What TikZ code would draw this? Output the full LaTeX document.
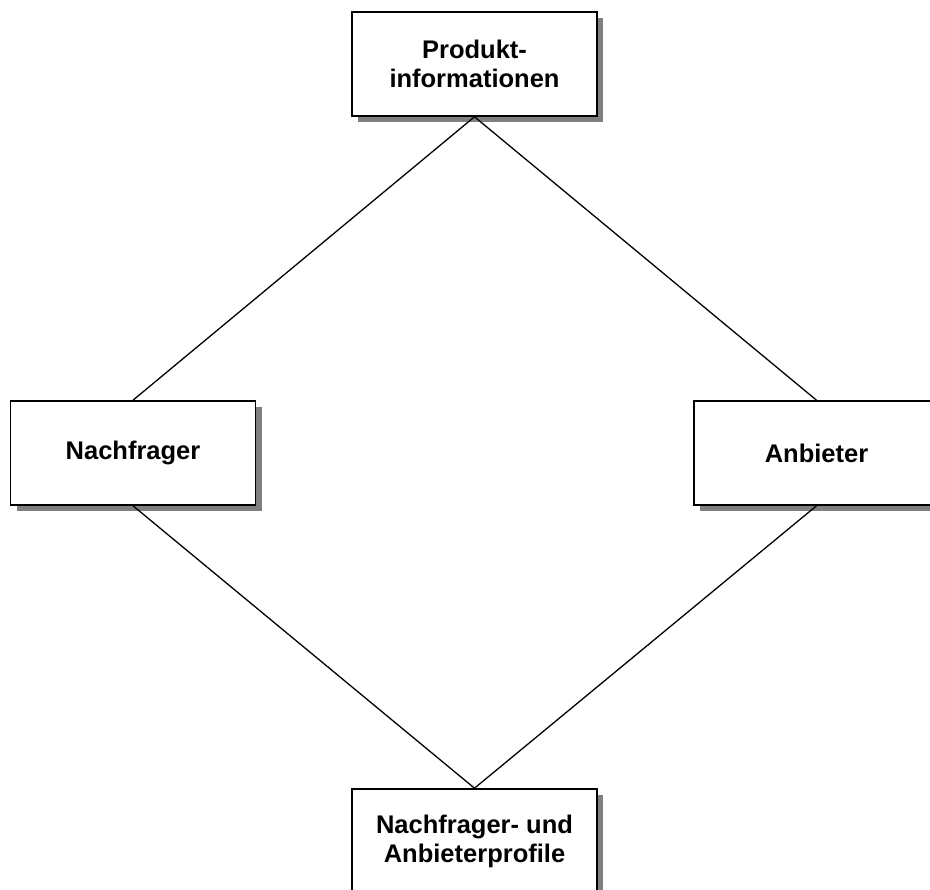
\documentclass[tikz,border=0pt]{standalone}
\usepackage{fontspec}
\setmainfont{Liberation Sans}
\usetikzlibrary{shadows}
\begin{document}
\begin{tikzpicture}[x=1pt,y=-1pt,
  entity/.style={draw=black, line width=1.6pt, fill=white,
    minimum width=245pt, minimum height=104pt, inner sep=0pt,
    align=center, font=\fontsize{25.5}{29}\selectfont\bfseries,
    drop shadow={shadow xshift=6pt, shadow yshift=-6pt, fill=black!50, opacity=1}},
  link/.style={draw=black, line width=1.3pt}]
  \useasboundingbox (0,0) rectangle (930,890);
  \clip (0,0) rectangle (930,890);
  \node[entity] (prod) at (474.5,64) {Produkt-\\informationen};
  \node[entity] (nach) at (133,453) {Nachfrager};
  \node[entity] (anb)  at (816.5,453) {Anbieter};
  \node[entity] (prof) at (474.5,841) {Nachfrager- und\\Anbieterprofile};
  \draw[link] (prod.south) -- (nach.north);
  \draw[link] (prod.south) -- (anb.north);
  \draw[link] (nach.south) -- (prof.north);
  \draw[link] (anb.south) -- (prof.north);
\end{tikzpicture}
\end{document}
